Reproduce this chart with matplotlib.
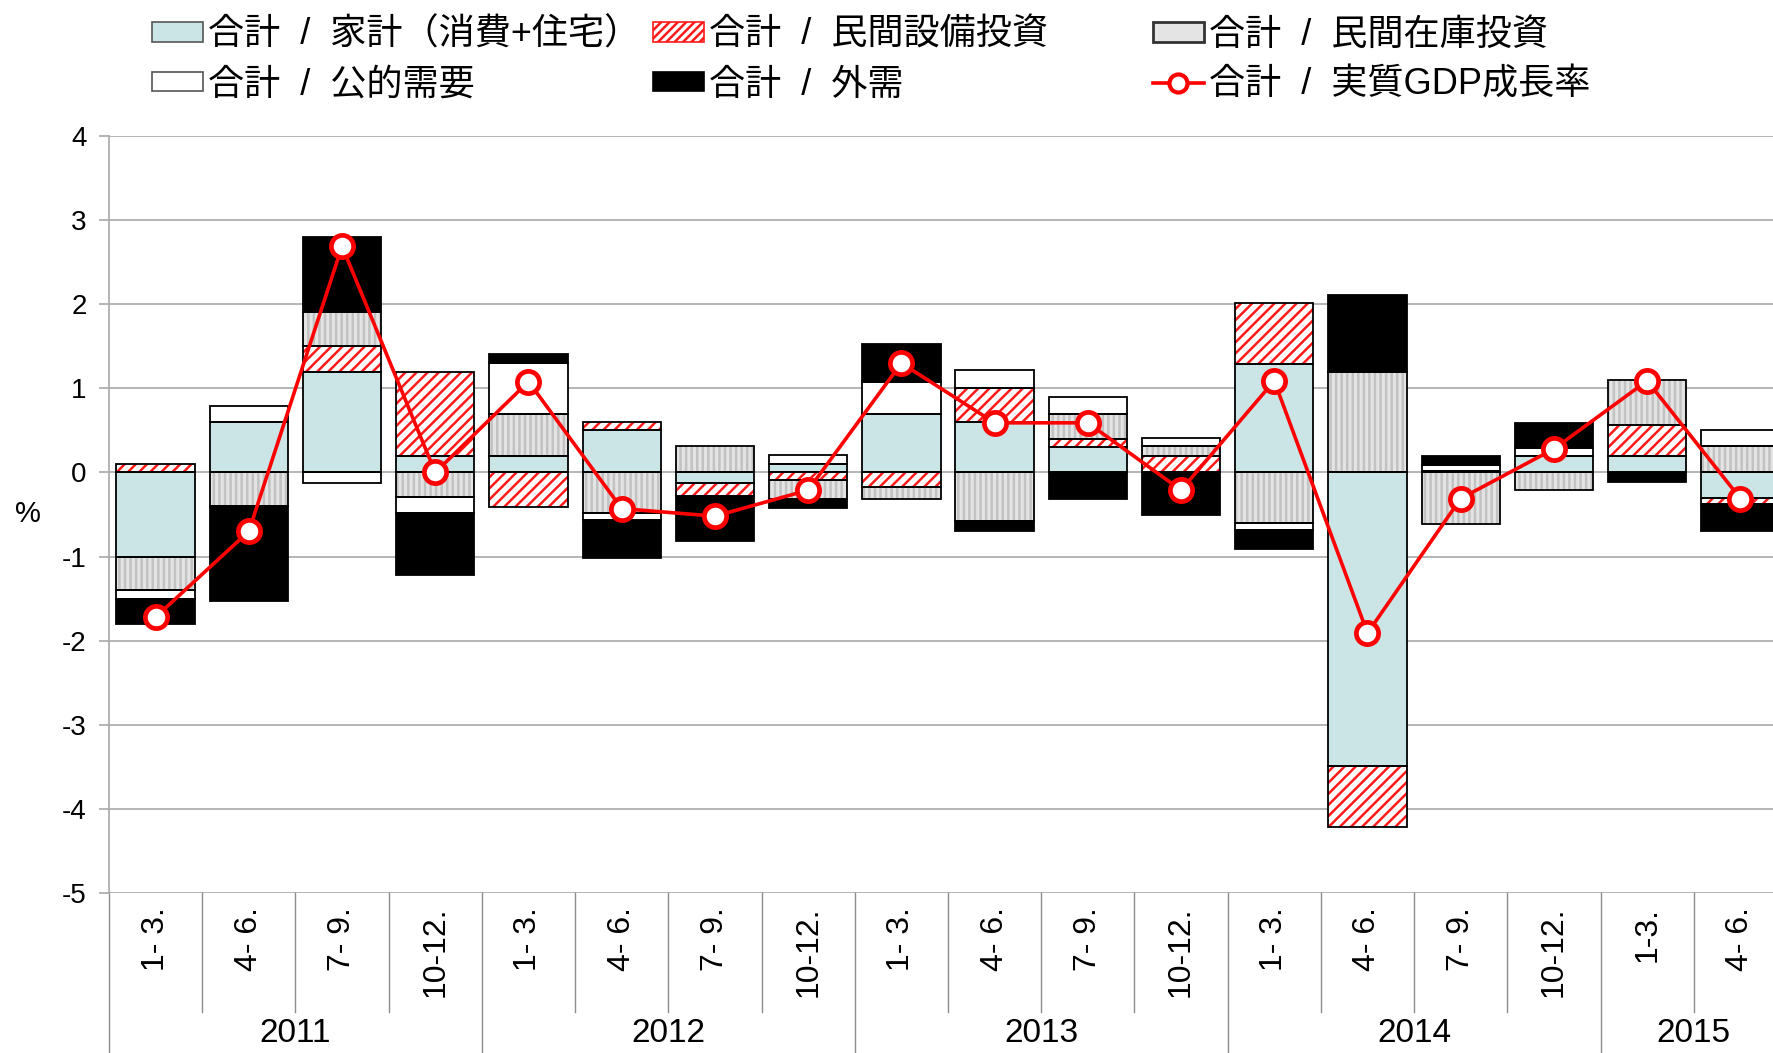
"""Contributions to Japan's real GDP growth, stacked by component (2011-2015)."""

import matplotlib

matplotlib.use("Agg")
import matplotlib.pyplot as plt  # noqa: E402
import matplotlib.transforms as mtransforms  # noqa: E402
import numpy as np  # noqa: E402
from matplotlib.lines import Line2D  # noqa: E402
from matplotlib.patches import Patch  # noqa: E402

plt.rcParams["font.family"] = ["Liberation Sans", "Noto Sans CJK JP", "DejaVu Sans"]
plt.rcParams["axes.unicode_minus"] = False
plt.rcParams["hatch.linewidth"] = 1.8

# --- data (% q/q contribution) ---------------------------------------------------
quarters = ["1- 3.", "4- 6.", "7- 9.", "10-12."] * 4 + ["1-3.", "4- 6."]
years = ["2011", "2012", "2013", "2014", "2015"]
year_len = [4, 4, 4, 4, 2]

household = [-1.0, 0.6, 1.19, 0.19, 0.19, 0.51, -0.13, 0.10, 0.70, 0.60, 0.30, 0.0,
             1.29, -3.49, 0.02, 0.19, 0.20, -0.30]
capex = [0.10, 0.0, 0.31, 1.01, -0.41, 0.09, -0.15, -0.09, -0.17, 0.40, 0.10, 0.19,
         0.72, -0.73, 0.0, 0.0, 0.37, -0.08]
inventory = [-0.40, -0.40, 0.41, -0.29, 0.51, -0.48, 0.31, -0.22, -0.14, -0.58, 0.30, 0.12,
             -0.60, 1.19, -0.61, -0.21, 0.53, 0.31]
public = [-0.10, 0.19, -0.12, -0.19, 0.60, -0.08, 0.0, 0.11, 0.38, 0.22, 0.20, 0.10,
          -0.09, 0.0, 0.07, 0.10, 0.0, 0.19]
external = [-0.30, -1.13, 0.89, -0.74, 0.11, -0.46, -0.54, -0.11, 0.45, -0.12, -0.31, -0.50,
            -0.22, 0.92, 0.11, 0.30, -0.11, -0.32]
gdp = [-1.72, -0.70, 2.69, 0.0, 1.08, -0.43, -0.52, -0.21, 1.30, 0.59, 0.59, -0.21,
       1.09, -1.91, -0.31, 0.28, 1.09, -0.31]

labels = ["合計  /  家計（消費+住宅）", "合計  /  民間設備投資", "合計  /  民間在庫投資",
          "合計  /  公的需要", "合計  /  外需", "合計  /  実質GDP成長率"]

HH_BLUE = "#cbe5e7"
INV_GRAY = "#e4e4e4"
GRID = "#a8a8a8"

# (values, face, hatch, hatch colour)
series = [
    (household, HH_BLUE, None, HH_BLUE),
    (capex, "white", "///", "#ff1a1a"),
    (inventory, INV_GRAY, "|||", "#c2c2c2"),
    (public, "white", None, "white"),
    (external, "black", None, "black"),
]

fig = plt.figure(figsize=(17.73, 10.53), dpi=100)
ax = fig.add_axes([109 / 1773, 1 - 893 / 1053, 1 - 109 / 1773, (893 - 136) / 1053])

x = np.arange(len(quarters))
width = 0.84
pos = np.zeros(len(x))
neg = np.zeros(len(x))
for vals, face, hatch, hcol in series:
    v = np.asarray(vals, dtype=float)
    bottom = np.where(v >= 0, pos, neg)
    m = v != 0
    ax.bar(x[m], v[m], width, bottom=bottom[m], color=face, edgecolor=hcol,
           hatch=hatch, linewidth=0, zorder=2)
    ax.bar(x[m], v[m], width, bottom=bottom[m], fill=False, edgecolor="black",
           linewidth=1.3, zorder=3)
    pos += np.clip(v, 0, None)
    neg += np.clip(v, None, 0)

ax.plot(x, gdp, "-o", color="#ff0000", lw=2.6, ms=16, mfc="white", mec="#ff0000",
        mew=3.4, zorder=5, clip_on=False)

ax.set_xlim(-0.5, 17.35)
ax.set_ylim(-5, 4)
ax.set_yticks(range(-5, 5))
ax.yaxis.grid(True, color=GRID, lw=1.2)
ax.set_axisbelow(True)
for s in ("top", "right", "bottom"):
    ax.spines[s].set_visible(False)
ax.spines["left"].set_color(GRID)
ax.spines["left"].set_linewidth(1.2)
ax.tick_params(axis="y", length=7, color=GRID, width=1.2, pad=9, labelsize=20)
ax.set_xticks(x, quarters, rotation=90, fontsize=23)
ax.tick_params(axis="x", length=0, pad=10)

# category / year separators below the axis
trans = mtransforms.blended_transform_factory(ax.transData, ax.transAxes)
year_edges = np.cumsum([0] + year_len) - 0.5
for k in range(1, len(quarters)):
    b = k - 0.5
    if b in year_edges:
        continue
    ax.plot([b, b], [0, -0.157], transform=trans, color="#8c8c8c", lw=1.0, clip_on=False)
for b in year_edges[:-1]:
    ax.plot([b, b], [0, -0.23], transform=trans, color="#8c8c8c", lw=1.0, clip_on=False)
for yr, start, n in zip(years, year_edges[:-1], year_len):
    ax.text(start + n / 2, -0.186, yr, transform=trans, ha="center", va="center",
            fontsize=24, clip_on=False)

fig.text(28 / 1773, 1 - 514 / 1053, "%", ha="center", va="center", fontsize=21)

# legend, three hand-placed columns
handles = [
    Patch(facecolor=HH_BLUE, edgecolor="#555555", lw=1.2),
    Patch(facecolor="white", edgecolor="#ff1a1a", hatch="////", lw=1.2),
    Patch(facecolor=INV_GRAY, edgecolor="#333333", lw=2.0),
    Patch(facecolor="white", edgecolor="#555555", lw=1.2),
    Patch(facecolor="black", edgecolor="black", lw=1.2),
    Line2D([], [], color="#ff0000", lw=2.6, marker="o", ms=13, mfc="white", mew=3.0),
]
col_x = [152 / 1773, 653 / 1773, 1153 / 1773]
for c in range(3):
    fig.legend([handles[c], handles[c + 3]], [labels[c], labels[c + 3]],
               loc="upper left", bbox_to_anchor=(col_x[c], 1 - 18 / 1053),
               frameon=False, fontsize=26, handlelength=1.4, handleheight=0.45,
               handletextpad=0.15, labelspacing=0.4, borderpad=0, borderaxespad=0)

fig.savefig("out.png", dpi=100)
